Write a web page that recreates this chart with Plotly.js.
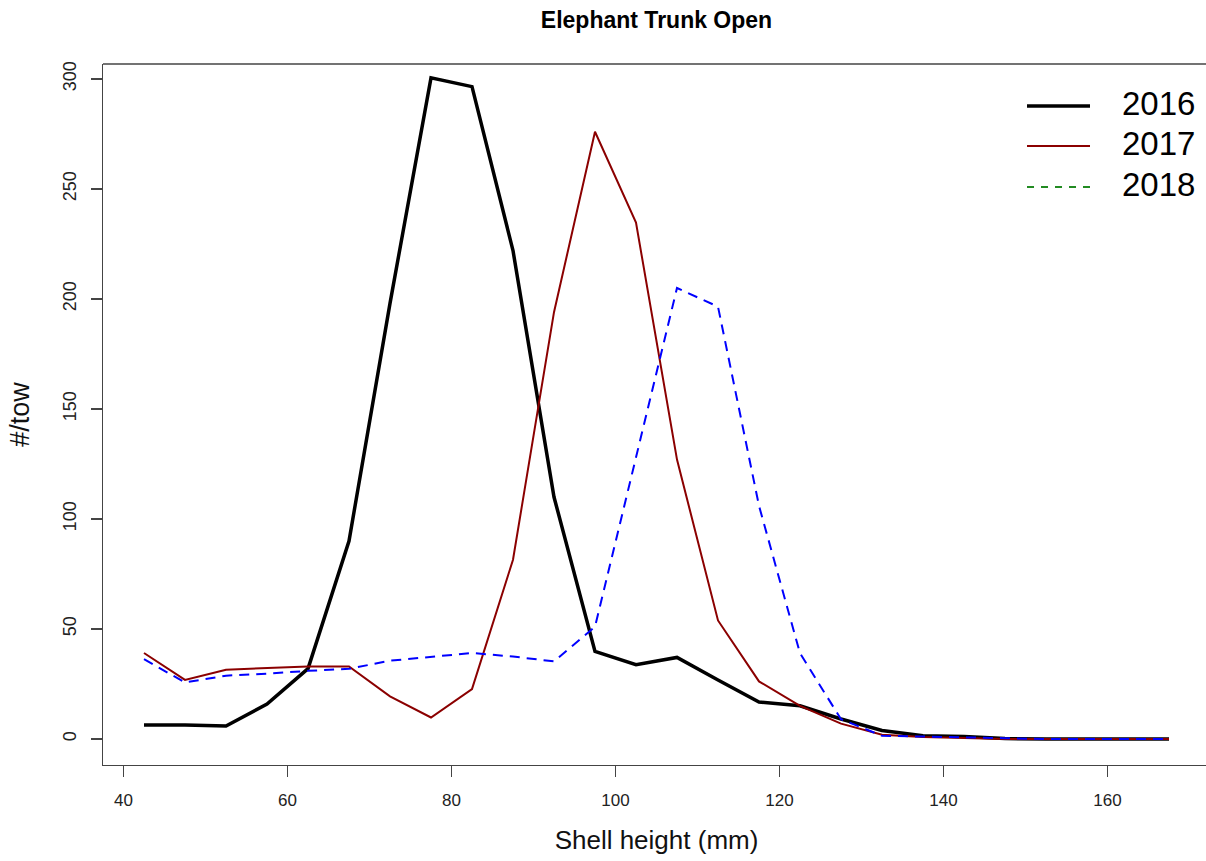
<!DOCTYPE html>
<html>
<head>
<meta charset="utf-8">
<script src="https://cdn.plot.ly/plotly-3.0.1.min.js"></script>
<style>
  html, body { margin: 0; padding: 0; overflow: hidden; background: #fff; }
  #chart { width: 1212px; height: 861px; }
</style>
</head>
<body>
<div id="chart"></div>
<script>
// Shell height bin midpoints (mm)
const shellHeight = [42.5, 47.5, 52.5, 57.5, 62.5, 67.5, 72.5, 77.5, 82.5, 87.5, 92.5, 97.5, 102.5,
                     107.5, 112.5, 117.5, 122.5, 127.5, 132.5, 137.5, 142.5, 147.5, 152.5, 157.5, 162.5, 167.5];
// Numbers per tow, by year
const tow2016 = [6.4, 6.4, 5.9, 15.9, 32, 90, 198, 300.5, 296.5, 222, 110, 39.8, 33.8,
                 37.1, 26.8, 16.8, 15.1, 9.1, 3.9, 1.5, 1.2, 0.2, 0, 0, 0, 0];
const tow2017 = [39.1, 26.9, 31.5, 32.2, 33, 33, 19.4, 9.8, 22.7, 81.5, 194, 276, 234.7,
                 127, 53.9, 26.2, 15.1, 7, 2, 0.9, 0.5, 0, 0, 0, 0, 0];
const tow2018 = [36.3, 25.7, 28.8, 29.7, 31, 31.9, 35.6, 37.2, 39.1, 37.5, 35.3, 51, 128,
                 205, 196.5, 106, 39, 9, 1.5, 1.2, 1.0, 0.4, 0, 0, 0, 0];
const seriesNames = ["2016", "2017", "2018"];
const xTicks = [40, 60, 80, 100, 120, 140, 160];
const yTicks = [0, 50, 100, 150, 200, 250, 300];

const FONT = "Liberation Sans, Arial, Helvetica, sans-serif";

const traces = [
  { x: shellHeight, y: tow2016, mode: "lines", name: seriesNames[0], showlegend: false,
    line: { color: "#000000", width: 3.5 } },
  { x: shellHeight, y: tow2017, mode: "lines", name: seriesNames[1], showlegend: false,
    line: { color: "#8B0000", width: 2 } },
  { x: shellHeight, y: tow2018, mode: "lines", name: seriesNames[2], showlegend: false,
    line: { color: "#0000FF", width: 2, dash: "10px,7px" } }
];

// Legend drawn in paper coordinates (box-less, like base R legend)
const legStyles = [
  { color: "#000000", width: 3.5, dash: "solid" },
  { color: "#8B0000", width: 2, dash: "solid" },
  { color: "#228B22", width: 2, dash: "7px,7px" }
];
const legY = [0.940, 0.883, 0.8245];
const shapes = [
  // top border of the box
  { type: "line", xref: "paper", yref: "paper", x0: 0, x1: 1, y0: 1, y1: 1,
    line: { color: "#444", width: 1.3 } }
];
const annotations = [];
seriesNames.forEach((nm, i) => {
  shapes.push({ type: "line", xref: "paper", yref: "paper", x0: 0.8347, x1: 0.8916,
    y0: legY[i], y1: legY[i], line: legStyles[i] });
  annotations.push({ xref: "paper", yref: "paper", x: 0.9187, y: legY[i] + 0.004,
    xanchor: "left", yanchor: "middle", text: nm, showarrow: false,
    font: { family: FONT, size: 33, color: "#000" } });
});

const layout = {
  width: 1212, height: 861,
  margin: { l: 103, r: 2, t: 64, b: 96, pad: 0 },
  paper_bgcolor: "#fff", plot_bgcolor: "#fff",
  showlegend: false,
  title: { text: "<b>Elephant Trunk Open</b>", x: 0.5, xref: "paper",
           y: 1 - 20 / 861, yref: "container", yanchor: "middle",
           font: { family: FONT, size: 23, color: "#000" } },
  xaxis: {
    range: [37.5, 172.5], tickvals: xTicks, ticktext: xTicks.map(String),
    ticks: "outside", ticklen: 11, tickwidth: 1.2, tickcolor: "#444",
    showline: true, linecolor: "#444", linewidth: 1.3, mirror: false,
    showgrid: false, zeroline: false, ticklabelstandoff: 8,
    tickfont: { family: FONT, size: 17, color: "#222" },
    title: { text: "Shell height (mm)", standoff: 22, font: { family: FONT, size: 26, color: "#111" } }
  },
  yaxis: {
    range: [-11.8, 306.8], tickvals: yTicks, ticktext: yTicks.map(String),
    ticks: "outside", ticklen: 11, tickwidth: 1.2, tickcolor: "#444", tickangle: -90,
    showline: true, linecolor: "#444", linewidth: 1.3, mirror: false,
    showgrid: false, zeroline: false, ticklabelstandoff: 8,
    tickfont: { family: FONT, size: 18, color: "#222" },
    title: { text: "#/tow", standoff: 22, font: { family: FONT, size: 27, color: "#111" } }
  },
  shapes: shapes,
  annotations: annotations
};

Plotly.newPlot("chart", traces, layout, { displayModeBar: false, staticPlot: true });
</script>
</body>
</html>
